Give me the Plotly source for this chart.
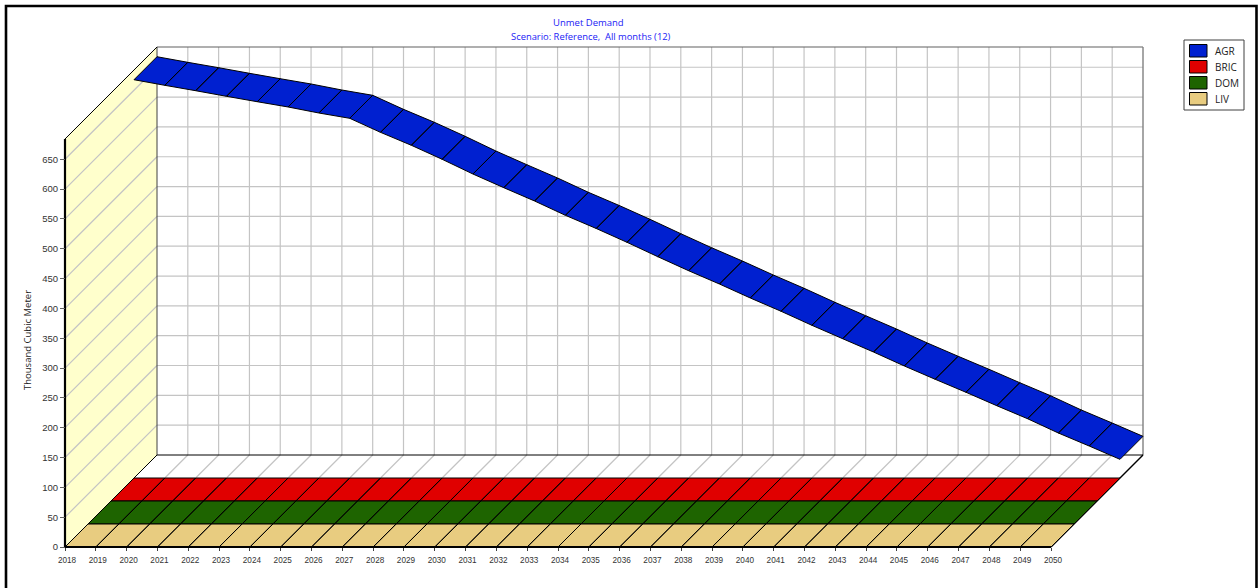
import plotly.graph_objects as go

# Unmet demand per year and demand site, thousand cubic metres
YEARS = list(range(2018, 2051))
AGR = [667.7, 658.3, 649.3, 639.9, 630.8, 622.0, 611.9, 603.0, 579.5, 557.8, 534.3,
       509.6, 486.7, 464.4, 440.4, 418.3, 395.1, 371.0, 347.5, 325.2, 301.8, 279.5,
       256.0, 233.5, 211.2, 187.8, 165.5, 143.7, 121.2, 99.4, 75.4, 53.6, 31.3]
BRIC = [0] * 33
DOM = [0] * 33
LIV = [0] * 33

SERIES_NAMES = ["AGR", "BRIC", "DOM", "LIV"]
SERIES_VALUES = [AGR, BRIC, DOM, LIV]
SERIES_COLORS = ["#0020D0", "#E00000", "#1E6400", "#E8CC80"]

Y_TICKS = list(range(0, 700, 50))
Y_TOP = 684

# Chart origin and plot area in page pixels; the area is padded so edge lines stay inside
W, H = 1259, 588
ORIGIN_X, ORIGIN_Y = 65, 547
PAD = 6
LEFT, RIGHT, TOP, BOTTOM = ORIGIN_X - PAD, 1142 + PAD, 47 - PAD, ORIGIN_Y + PAD
PX_PER_YEAR = (1051 - 65) / 32
PX_PER_UNIT = 0.5965
DEPTH_PX = 92

# Oblique projection: a unit of depth shifts a point right and up
DEPTH_X = DEPTH_PX / PX_PER_YEAR
DEPTH_Y = DEPTH_PX / PX_PER_UNIT
X0, X1 = YEARS[0], YEARS[-1]


def proj(year, value, depth):
    return year + depth * DEPTH_X, value + depth * DEPTH_Y


def segments(pairs):
    xs, ys = [], []
    for a, b in pairs:
        xs += [a[0], b[0], None]
        ys += [a[1], b[1], None]
    return xs, ys


def line_trace(pairs, color, width):
    xs, ys = segments(pairs)
    return go.Scatter(x=xs, y=ys, mode="lines", line=dict(color=color, width=width),
                      hoverinfo="skip", showlegend=False, cliponaxis=False)


def polygon(points, fill):
    xs = [p[0] for p in points] + [points[0][0]]
    ys = [p[1] for p in points] + [points[0][1]]
    return go.Scatter(x=xs, y=ys, mode="lines", fill="toself", fillcolor=fill,
                      line=dict(color=fill, width=0), hoverinfo="skip",
                      showlegend=False, cliponaxis=False)


fig = go.Figure()

# Left wall
fig.add_trace(polygon([proj(X0, 0, 0), proj(X0, 0, 1), proj(X0, Y_TOP, 1), proj(X0, Y_TOP, 0)], "#FFFFCC"))

GRID = "#C4C4C4"
fig.add_trace(line_trace([(proj(X0, v, 0), proj(X0, v, 1)) for v in Y_TICKS[1:]], GRID, 1.2))
fig.add_trace(line_trace([(proj(X0, v, 1), proj(X1, v, 1)) for v in Y_TICKS[1:]], GRID, 1.2))
fig.add_trace(line_trace([(proj(y, 0, 1), proj(y, Y_TOP, 1)) for y in YEARS[1:-1]], GRID, 1.2))
fig.add_trace(line_trace([(proj(y, 0, 0.75), proj(y, 0, 1)) for y in YEARS[1:-1]], GRID, 1.2))

# Back wall and floor outlines
fig.add_trace(line_trace([(proj(X0, Y_TOP, 1), proj(X1, Y_TOP, 1))], "#606060", 1.2))
fig.add_trace(line_trace([(proj(X1, 0, 1), proj(X1, Y_TOP, 1))], "#808080", 1.4))
fig.add_trace(line_trace([(proj(X0, 0, 1), proj(X0, Y_TOP, 1))], "#404040", 1))
fig.add_trace(line_trace([(proj(X0, 0, 1), proj(X1, 0, 1))], "#000000", 1))
fig.add_trace(line_trace([(proj(X1, 0, 0), proj(X1, 0, 1))], "#000000", 1.4))
fig.add_trace(line_trace([(proj(X0, Y_TOP, 0), proj(X0, Y_TOP, 1))], "#000000", 1))
fig.add_trace(line_trace([(proj(X0, 0, 0), proj(X0, 0, 1))], "#000000", 1))

# One ribbon per demand site, back to front, each a quarter of the depth
for slot, (name, values, color) in enumerate(zip(SERIES_NAMES, SERIES_VALUES, SERIES_COLORS)):
    near = (3 - slot) * 0.25
    far = near + 0.25
    xs, ys = [], []
    for i in range(len(YEARS) - 1):
        quad = [proj(YEARS[i], values[i], near), proj(YEARS[i], values[i], far),
                proj(YEARS[i + 1], values[i + 1], far), proj(YEARS[i + 1], values[i + 1], near),
                proj(YEARS[i], values[i], near)]
        xs += [p[0] for p in quad] + [None]
        ys += [p[1] for p in quad] + [None]
    fig.add_trace(go.Scatter(x=xs, y=ys, mode="lines", fill="toself", fillcolor=color,
                             line=dict(color="#000000", width=1), name=name,
                             hoverinfo="skip", showlegend=False, cliponaxis=False))

# Heavy front axis lines
fig.add_trace(line_trace([(proj(X0, 0, 0), proj(X0, Y_TOP, 0))], "#000000", 2.2))
fig.add_trace(line_trace([(proj(X0, 0, 0), proj(X1, 0, 0))], "#000000", 2))


def px_x(px):
    return (px - LEFT) / (RIGHT - LEFT)


def px_y(py):
    return (BOTTOM - py) / (BOTTOM - TOP)


def rect(x0, y0, x1, y1, line_color, width, fill=None):
    return dict(type="rect", xref="paper", yref="paper", x0=px_x(x0), x1=px_x(x1),
                y0=px_y(y0), y1=px_y(y1), line=dict(color=line_color, width=width),
                fillcolor=fill or "rgba(0,0,0,0)")


# Outer frame and legend box
shapes = [rect(6, 6, 1256.5, 600, "#000000", 2.6),
          rect(1184, 40, 1244, 110, "#404040", 1, "#FFFFFF")]
annotations = []
UI_FONT = "Open Sans"
for i, (name, color) in enumerate(zip(SERIES_NAMES, SERIES_COLORS)):
    top = 44.5 + i * 16
    shapes.append(rect(1189.5, top, 1207, top + 12.5, "#000000", 1, color))
    annotations.append(dict(xref="paper", yref="paper", x=px_x(1213), y=px_y(top + 6.5),
                            text=name, showarrow=False, xanchor="left", yanchor="middle",
                            font=dict(family=UI_FONT, size=10, color="#222222")))

annotations.append(dict(xref="paper", yref="paper", x=px_x(27), y=px_y(340),
                        text="Thousand Cubic Meter", showarrow=False, textangle=-90,
                        xanchor="center", yanchor="middle",
                        font=dict(family=UI_FONT, size=9.5, color="#222222")))
annotations.append(dict(xref="paper", yref="paper", x=px_x(588), y=px_y(22.5),
                        text="Unmet Demand", showarrow=False, xanchor="center", yanchor="middle",
                        font=dict(family=UI_FONT, size=9.5, color="#2222F5")))
annotations.append(dict(xref="paper", yref="paper", x=px_x(590.5), y=px_y(36.5),
                        text="Scenario: Reference,\u00a0 All months (12)", showarrow=False,
                        xanchor="center", yanchor="middle",
                        font=dict(family=UI_FONT, size=9.4, color="#2222F5")))

fig.update_layout(
    width=W, height=H,
    margin=dict(l=LEFT, r=W - RIGHT, t=TOP, b=H - BOTTOM, pad=0),
    paper_bgcolor="#FFFFFF", plot_bgcolor="#FFFFFF",
    showlegend=False,
    shapes=shapes, annotations=annotations,
    xaxis=dict(range=[X0 - PAD / PX_PER_YEAR, X0 + (RIGHT - ORIGIN_X) / PX_PER_YEAR],
               anchor="free", position=PAD / (BOTTOM - TOP), tickmode="array",
               tickvals=YEARS, ticktext=[str(y) for y in YEARS], tickangle=0,
               showgrid=False, zeroline=False, showline=False, ticks="outside", ticklen=3,
               tickcolor="#404040", tickwidth=1, ticklabelshift=2, ticklabelstandoff=2,
               tickfont=dict(family="Liberation Sans", size=8.2, color="#333333")),
    yaxis=dict(range=[-PAD / PX_PER_UNIT, (ORIGIN_Y - TOP) / PX_PER_UNIT],
               anchor="free", position=PAD / (RIGHT - LEFT), tickmode="array",
               tickvals=Y_TICKS, ticktext=[str(v) for v in Y_TICKS],
               showgrid=False, zeroline=False, showline=False, ticks="outside", ticklen=5,
               tickcolor="#606060", tickwidth=1,
               tickfont=dict(family="Liberation Sans", size=9.5, color="#333333")),
)

fig.write_html("out.html")
